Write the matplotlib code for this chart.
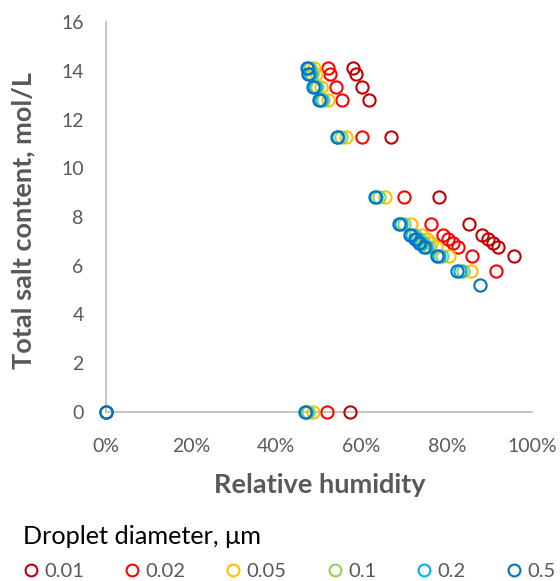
import matplotlib
matplotlib.use("Agg")
import matplotlib.pyplot as plt
from matplotlib.lines import Line2D
from matplotlib.ticker import PercentFormatter

plt.rcParams['font.family'] = ['Lato', 'DejaVu Sans']

# droplet diameters (um) and series colours
diameters = ["0.01", "0.02", "0.05", "0.1", "0.2", "0.5"]
colors = ["#C00000", "#FF0000", "#FFC000", "#92D050", "#00B0F0", "#0070C0"]

# relative humidity (fraction) / total salt content (mol/L) per diameter
rh_001 = [0.0, 0.572, 0.581, 0.587, 0.600, 0.617, 0.669, 0.782, 0.851, 0.883, 0.896, 0.908, 0.921, 0.958]
salt_001 = [0, 0, 14.10, 13.85, 13.35, 12.80, 11.30, 8.82, 7.70, 7.28, 7.08, 6.92, 6.76, 6.38]

rh_002 = [0.0, 0.518, 0.522, 0.526, 0.540, 0.555, 0.600, 0.700, 0.764, 0.792, 0.803, 0.815, 0.827, 0.860, 0.915]
salt_002 = [0, 0, 14.10, 13.85, 13.35, 12.80, 11.30, 8.82, 7.70, 7.28, 7.08, 6.92, 6.76, 6.38, 5.78]

rh_005 = [0.0, 0.485, 0.489, 0.494, 0.506, 0.521, 0.563, 0.656, 0.715, 0.742, 0.753, 0.764, 0.775, 0.806, 0.857]
salt_005 = [0, 0, 14.10, 13.85, 13.35, 12.80, 11.30, 8.82, 7.70, 7.28, 7.08, 6.92, 6.76, 6.38, 5.78]

rh_01 = [0.0, 0.475, 0.479, 0.483, 0.495, 0.510, 0.551, 0.642, 0.700, 0.726, 0.737, 0.747, 0.759, 0.789, 0.839]
salt_01 = [0, 0, 14.10, 13.85, 13.35, 12.80, 11.30, 8.82, 7.70, 7.28, 7.08, 6.92, 6.76, 6.38, 5.78]

rh_02 = [0.0, 0.470, 0.474, 0.478, 0.490, 0.504, 0.545, 0.635, 0.692, 0.719, 0.730, 0.740, 0.751, 0.781, 0.830]
salt_02 = [0, 0, 14.10, 13.85, 13.35, 12.80, 11.30, 8.82, 7.70, 7.28, 7.08, 6.92, 6.76, 6.38, 5.78]

rh_05 = [0.0, 0.467, 0.471, 0.475, 0.487, 0.501, 0.542, 0.631, 0.688, 0.714, 0.725, 0.735, 0.746, 0.776, 0.825, 0.878]
salt_05 = [0, 0, 14.10, 13.85, 13.35, 12.80, 11.30, 8.82, 7.70, 7.28, 7.08, 6.92, 6.76, 6.38, 5.78, 5.22]

rh_all = [rh_001, rh_002, rh_005, rh_01, rh_02, rh_05]
salt_all = [salt_001, salt_002, salt_005, salt_01, salt_02, salt_05]

grey = "#595959"
axis_grey = "#BFBFBF"

fig = plt.figure(figsize=(5.6, 5.81), dpi=100)
ax = fig.add_axes([0.189, 0.291, 0.761, 0.671])

for x, y, c in zip(rh_all, salt_all, colors):
    ax.plot(x, y, linestyle="none", marker="o", markersize=8.8,
            markerfacecolor="none", markeredgecolor=c, markeredgewidth=1.5,
            clip_on=False)

ax.set_xlim(0, 1)
ax.set_ylim(0, 16)
ax.set_xticks([0, 0.2, 0.4, 0.6, 0.8, 1.0])
ax.set_yticks(range(0, 17, 2))
ax.xaxis.set_major_formatter(PercentFormatter(1.0, decimals=0))

for s in ["top", "right"]:
    ax.spines[s].set_visible(False)
for s in ["left", "bottom"]:
    ax.spines[s].set_color(axis_grey)
    ax.spines[s].set_linewidth(1.3)
    ax.spines[s].set_zorder(0)

ax.tick_params(length=0, labelsize=14, labelcolor=grey)
ax.tick_params(axis="x", pad=18.5)
ax.tick_params(axis="y", pad=16)

ax.set_xlabel("Relative humidity", fontsize=19.5, fontweight="bold", color=grey)
ax.set_ylabel("Total salt content, mol/L", fontsize=19.5, fontweight="bold", color=grey)
ax.xaxis.set_label_coords(0.501, -0.157)
ax.yaxis.set_label_coords(-0.165, 0.49)

handles = [Line2D([], [], linestyle="none", marker="o", markersize=8.5,
                  markerfacecolor="none", markeredgecolor=c, markeredgewidth=1.5)
           for c in colors]
leg = fig.legend(handles, diameters, ncol=6, loc="lower left",
                 bbox_to_anchor=(0.041, 0.002), borderaxespad=0, borderpad=0,
                 frameon=False, title="Droplet diameter, \u03bcm", title_fontsize=18.2,
                 fontsize=14.5, alignment="left", handletextpad=0.3,
                 handlelength=0.75, columnspacing=2.0, labelspacing=0.75,
                 labelcolor=grey)
leg.get_title().set_color("black")

fig.savefig("out.png", dpi=100)
